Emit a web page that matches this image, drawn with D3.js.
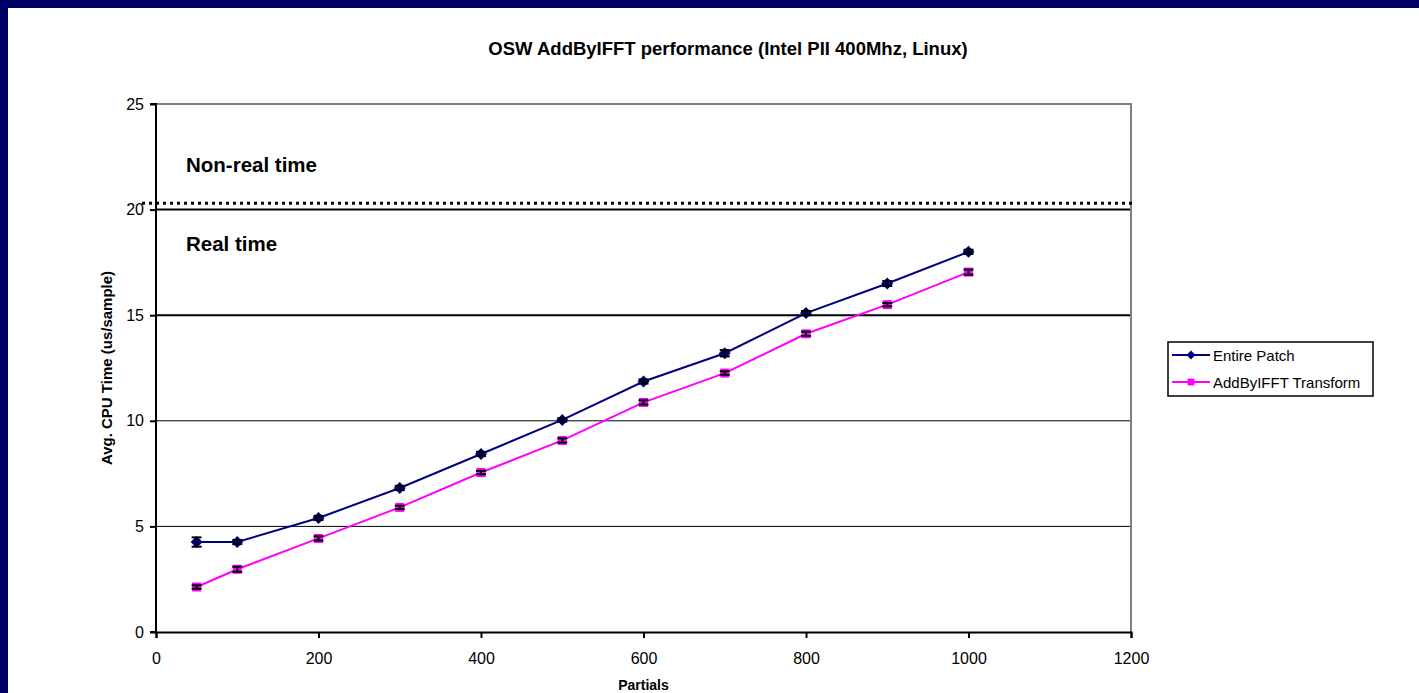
<!DOCTYPE html>
<html>
<head>
<meta charset="utf-8">
<script src="https://cdn.jsdelivr.net/npm/d3@7"></script>
<style>
  html, body { margin: 0; padding: 0; background: #fff; }
  svg { display: block; font-family: "Liberation Sans", Arial, sans-serif; }
</style>
</head>
<body>
<svg id="chart" width="1419" height="693"></svg>
<script>
// data
const partials = [50, 100, 200, 300, 400, 500, 600, 700, 800, 900, 1000];
const entirePatch = [4.26, 4.26, 5.4, 6.82, 8.43, 10.04, 11.86, 13.2, 15.1, 16.5, 18.0];
const entireErr = [0.22, 0.1, 0.1, 0.1, 0.1, 0.08, 0.1, 0.15, 0.1, 0.12, 0.1];
const addByIfft = [2.13, 2.97, 4.43, 5.9, 7.55, 9.07, 10.87, 12.26, 14.12, 15.5, 17.04];
const addErr = [0.08, 0.12, 0.1, 0.08, 0.08, 0.1, 0.1, 0.08, 0.1, 0.08, 0.12];
const xTicks = [0, 200, 400, 600, 800, 1000, 1200];
const yTicks = [0, 5, 10, 15, 20, 25];
const thickGrid = [15, 20];
const realTimeLimit = 20.3;

const svg = d3.select("#chart");
const W = 1419, H = 693;

// navy frame on left and top
svg.append("rect").attr("width", W).attr("height", H).attr("fill", "#000066");
svg.append("rect").attr("x", 8).attr("y", 8).attr("width", W - 8).attr("height", H - 8).attr("fill", "#fff");

const x = d3.scaleLinear().domain([0, 1200]).range([156, 1131]);
const y = d3.scaleLinear().domain([0, 25]).range([632, 104]);

// title
svg.append("text")
  .attr("x", 728).attr("y", 55)
  .attr("text-anchor", "middle")
  .style("font-size", "18.5px").style("font-weight", "bold")
  .text("OSW AddByIFFT performance (Intel PII 400Mhz, Linux)");

// gridlines
svg.append("g").selectAll("line")
  .data(yTicks.filter(d => d > 0 && d < 25))
  .join("line")
  .attr("x1", x(0)).attr("x2", x(1200))
  .attr("y1", d => y(d)).attr("y2", d => y(d))
  .attr("stroke", "#000")
  .attr("stroke-width", d => thickGrid.includes(d) ? 2 : 1);

// top and right plot border (gray)
svg.append("path")
  .attr("d", `M${x(0)},${y(25)}H${x(1200)}V${y(0)}`)
  .attr("fill", "none").attr("stroke", "#808080").attr("stroke-width", 2);

// real-time limit dotted line
svg.append("line")
  .attr("x1", 142).attr("x2", x(1200) + 2)
  .attr("y1", y(realTimeLimit)).attr("y2", y(realTimeLimit))
  .attr("stroke", "#000").attr("stroke-width", 3)
  .attr("stroke-dasharray", "3,4");

// axes
const yAxis = svg.append("g")
  .attr("transform", `translate(${x(0)},0)`)
  .call(d3.axisLeft(y).tickValues(yTicks).tickSize(6).tickPadding(6).tickFormat(d3.format("d")));
const xAxis = svg.append("g")
  .attr("transform", `translate(0,${y(0)})`)
  .call(d3.axisBottom(x).tickValues(xTicks).tickSize(6).tickPadding(15).tickFormat(d3.format("d")));
[yAxis, xAxis].forEach(a => {
  a.select(".domain").attr("stroke", "#000").attr("stroke-width", 2);
  a.selectAll(".tick line").attr("stroke", "#000").attr("stroke-width", 2);
  a.selectAll(".tick text")
    .attr("fill", "#000")
    .style("font-size", "16px")
    .style("font-family", "'Liberation Sans', Arial, sans-serif");
});
yAxis.select(".domain").attr("d", `M-6,${y(25)}H0V${y(0)}H-6`);

// axis titles
svg.append("text")
  .attr("x", x(600)).attr("y", 690)
  .attr("text-anchor", "middle")
  .style("font-size", "14px").style("font-weight", "bold")
  .text("Partials");
svg.append("text")
  .attr("transform", `translate(112,${y(12.5)}) rotate(-90)`)
  .attr("text-anchor", "middle")
  .style("font-size", "15px").style("font-weight", "bold")
  .text("Avg. CPU Time (us/sample)");

// zone labels
svg.append("text").attr("x", 186).attr("y", 172)
  .style("font-size", "20.5px").style("font-weight", "bold")
  .text("Non-real time");
svg.append("text").attr("x", 186).attr("y", 251)
  .style("font-size", "20.5px").style("font-weight", "bold")
  .text("Real time");

const series = [
  { name: "Entire Patch", values: entirePatch, err: entireErr, color: "#000080", marker: "diamond" },
  { name: "AddByIFFT Transform", values: addByIfft, err: addErr, color: "#FF00FF", marker: "square" }
];

const line = d3.line().x(d => x(d[0])).y(d => y(d[1]));

function drawMarker(g, type, color) {
  if (type === "diamond") {
    g.append("path").attr("d", "M0,-6L6,0L0,6L-6,0Z").attr("fill", color);
  } else {
    g.append("rect").attr("x", -4.5).attr("y", -4.5).attr("width", 9).attr("height", 9)
      .attr("fill", color);
  }
}

series.forEach(s => {
  const pts = partials.map((p, i) => [p, s.values[i], s.err[i]]);
  const g = svg.append("g");
  g.append("path").datum(pts)
    .attr("d", line)
    .attr("fill", "none").attr("stroke", s.color).attr("stroke-width", 2);

  const pt = g.selectAll("g.pt").data(pts).join("g")
    .attr("class", "pt")
    .attr("transform", d => `translate(${x(d[0])},${y(d[1])})`);
  pt.each(function () { drawMarker(d3.select(this), s.marker, s.color); });

  // error bars
  const eb = g.selectAll("g.eb").data(pts).join("g")
    .attr("class", "eb")
    .attr("transform", d => `translate(${x(d[0])},0)`)
    .attr("stroke", "#000").attr("stroke-width", 2);
  eb.append("line").attr("x1", 0).attr("x2", 0)
    .attr("y1", d => y(d[1] + d[2])).attr("y2", d => y(d[1] - d[2]));
  eb.append("line").attr("x1", -5).attr("x2", 5)
    .attr("y1", d => y(d[1] + d[2])).attr("y2", d => y(d[1] + d[2]));
  eb.append("line").attr("x1", -5).attr("x2", 5)
    .attr("y1", d => y(d[1] - d[2])).attr("y2", d => y(d[1] - d[2]));
});

// legend
const legend = svg.append("g").attr("transform", "translate(1168,342)");
legend.append("rect")
  .attr("width", 205).attr("height", 54)
  .attr("fill", "#fff").attr("stroke", "#000").attr("stroke-width", 1.5);
series.forEach((s, i) => {
  const row = legend.append("g").attr("transform", `translate(0,${13 + i * 27})`);
  row.append("line").attr("x1", 4).attr("x2", 42).attr("y1", 0).attr("y2", 0)
    .attr("stroke", s.color).attr("stroke-width", 2);
  const m = row.append("g").attr("transform", "translate(23,0) scale(0.75)");
  drawMarker(m, s.marker, s.color);
  row.append("text").attr("x", 45).attr("y", 5.5)
    .style("font-size", "15px")
    .text(s.name);
});
</script>
</body>
</html>
